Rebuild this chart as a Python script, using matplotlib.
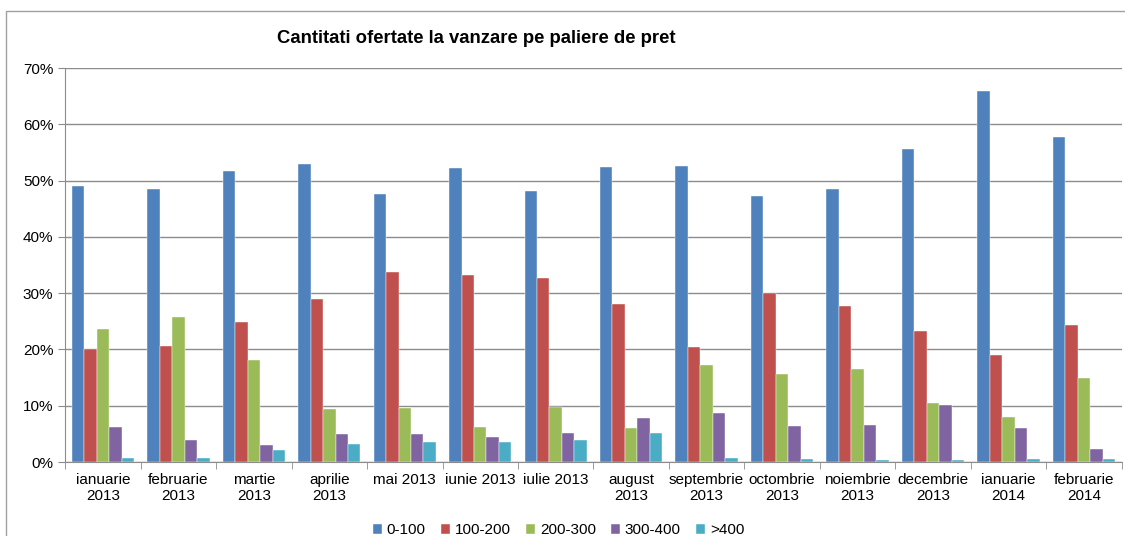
import numpy as np
import matplotlib.pyplot as plt
from matplotlib.patches import Rectangle
from matplotlib.ticker import FuncFormatter

months = ["ianuarie\n2013", "februarie\n2013", "martie\n2013", "aprilie\n2013",
          "mai 2013", "iunie 2013", "iulie 2013", "august\n2013",
          "septembrie\n2013", "octombrie\n2013", "noiembrie\n2013",
          "decembrie\n2013", "ianuarie\n2014", "februarie\n2014"]

p0_100 = [49.1, 48.5, 51.7, 53.0, 47.7, 52.3, 48.1, 52.5, 52.6, 47.2, 48.5, 55.6, 65.9, 57.7]
p100_200 = [20.0, 20.7, 24.8, 29.0, 33.8, 33.3, 32.7, 28.1, 20.4, 30.0, 27.7, 23.3, 19.1, 24.3]
p200_300 = [23.7, 25.8, 18.2, 9.5, 9.6, 6.3, 9.8, 6.1, 17.2, 15.6, 16.5, 10.5, 8.0, 15.0]
p300_400 = [6.25, 4.0, 3.0, 5.0, 5.0, 4.4, 5.2, 7.8, 8.7, 6.4, 6.6, 10.1, 6.1, 2.3]
p400 = [0.7, 0.7, 2.1, 3.2, 3.6, 3.5, 4.0, 5.2, 0.7, 0.5, 0.4, 0.3, 0.5, 0.5]

series = [("0-100", p0_100, "#4F81BD"),
          ("100-200", p100_200, "#C0504D"),
          ("200-300", p200_300, "#9BBB59"),
          ("300-400", p300_400, "#8064A2"),
          (">400", p400, "#4BACC6")]

plt.rcParams['font.family'] = ['Liberation Sans', 'DejaVu Sans']

fig = plt.figure(figsize=(11.25, 5.36), dpi=100)
ax = fig.add_axes([0.058, 0.138, 0.939, 0.735])

# outer chart frame
fig.patches.append(Rectangle((6 / 1125, -0.05), 1.2, 1 - 11 / 536 + 0.05,
                             transform=fig.transFigure, fill=False,
                             edgecolor="#A0A0A0", linewidth=1.0))

x = np.arange(len(months))
w = 0.165
for i, (name, vals, col) in enumerate(series):
    ax.bar(x + (i - 2) * w, vals, width=w, color=col, label=name,
           edgecolor="white", linewidth=0.3, zorder=3)

ax.set_xlim(-0.5, len(months) - 0.5)
ax.set_ylim(0, 70)
ax.set_yticks(range(0, 71, 10))
ax.yaxis.set_major_formatter(FuncFormatter(lambda v, p: f"{int(v)}%"))
ax.grid(axis="y", color="#8C8C8C", linewidth=1.0, zorder=0)

ax.set_xticks(x)
ax.set_xticklabels(months, fontsize=11, linespacing=1.15)
ax.set_xticks(np.arange(-0.5, len(months), 1), minor=True)
ax.tick_params(axis="x", which="major", length=0, pad=8)
ax.tick_params(axis="x", which="minor", length=5, color="#8C8C8C", direction="out")
ax.tick_params(axis="y", labelsize=11, length=5, color="#8C8C8C")

for s in ["top", "right"]:
    ax.spines[s].set_visible(False)
ax.spines["left"].set_color("#8C8C8C")
ax.spines["bottom"].set_color("#8C8C8C")

fig.text(0.423, 0.929, "Cantitati ofertate la vanzare pe paliere de pret",
         ha="center", va="center", fontsize=13.3, fontweight="bold")

ax.legend(loc="center", bbox_to_anchor=(0.467, -0.173), ncol=5, frameon=False,
          fontsize=11, handlelength=0.6, handleheight=0.6, handletextpad=0.3,
          columnspacing=1.0)

fig.savefig("out.png", dpi=100)
